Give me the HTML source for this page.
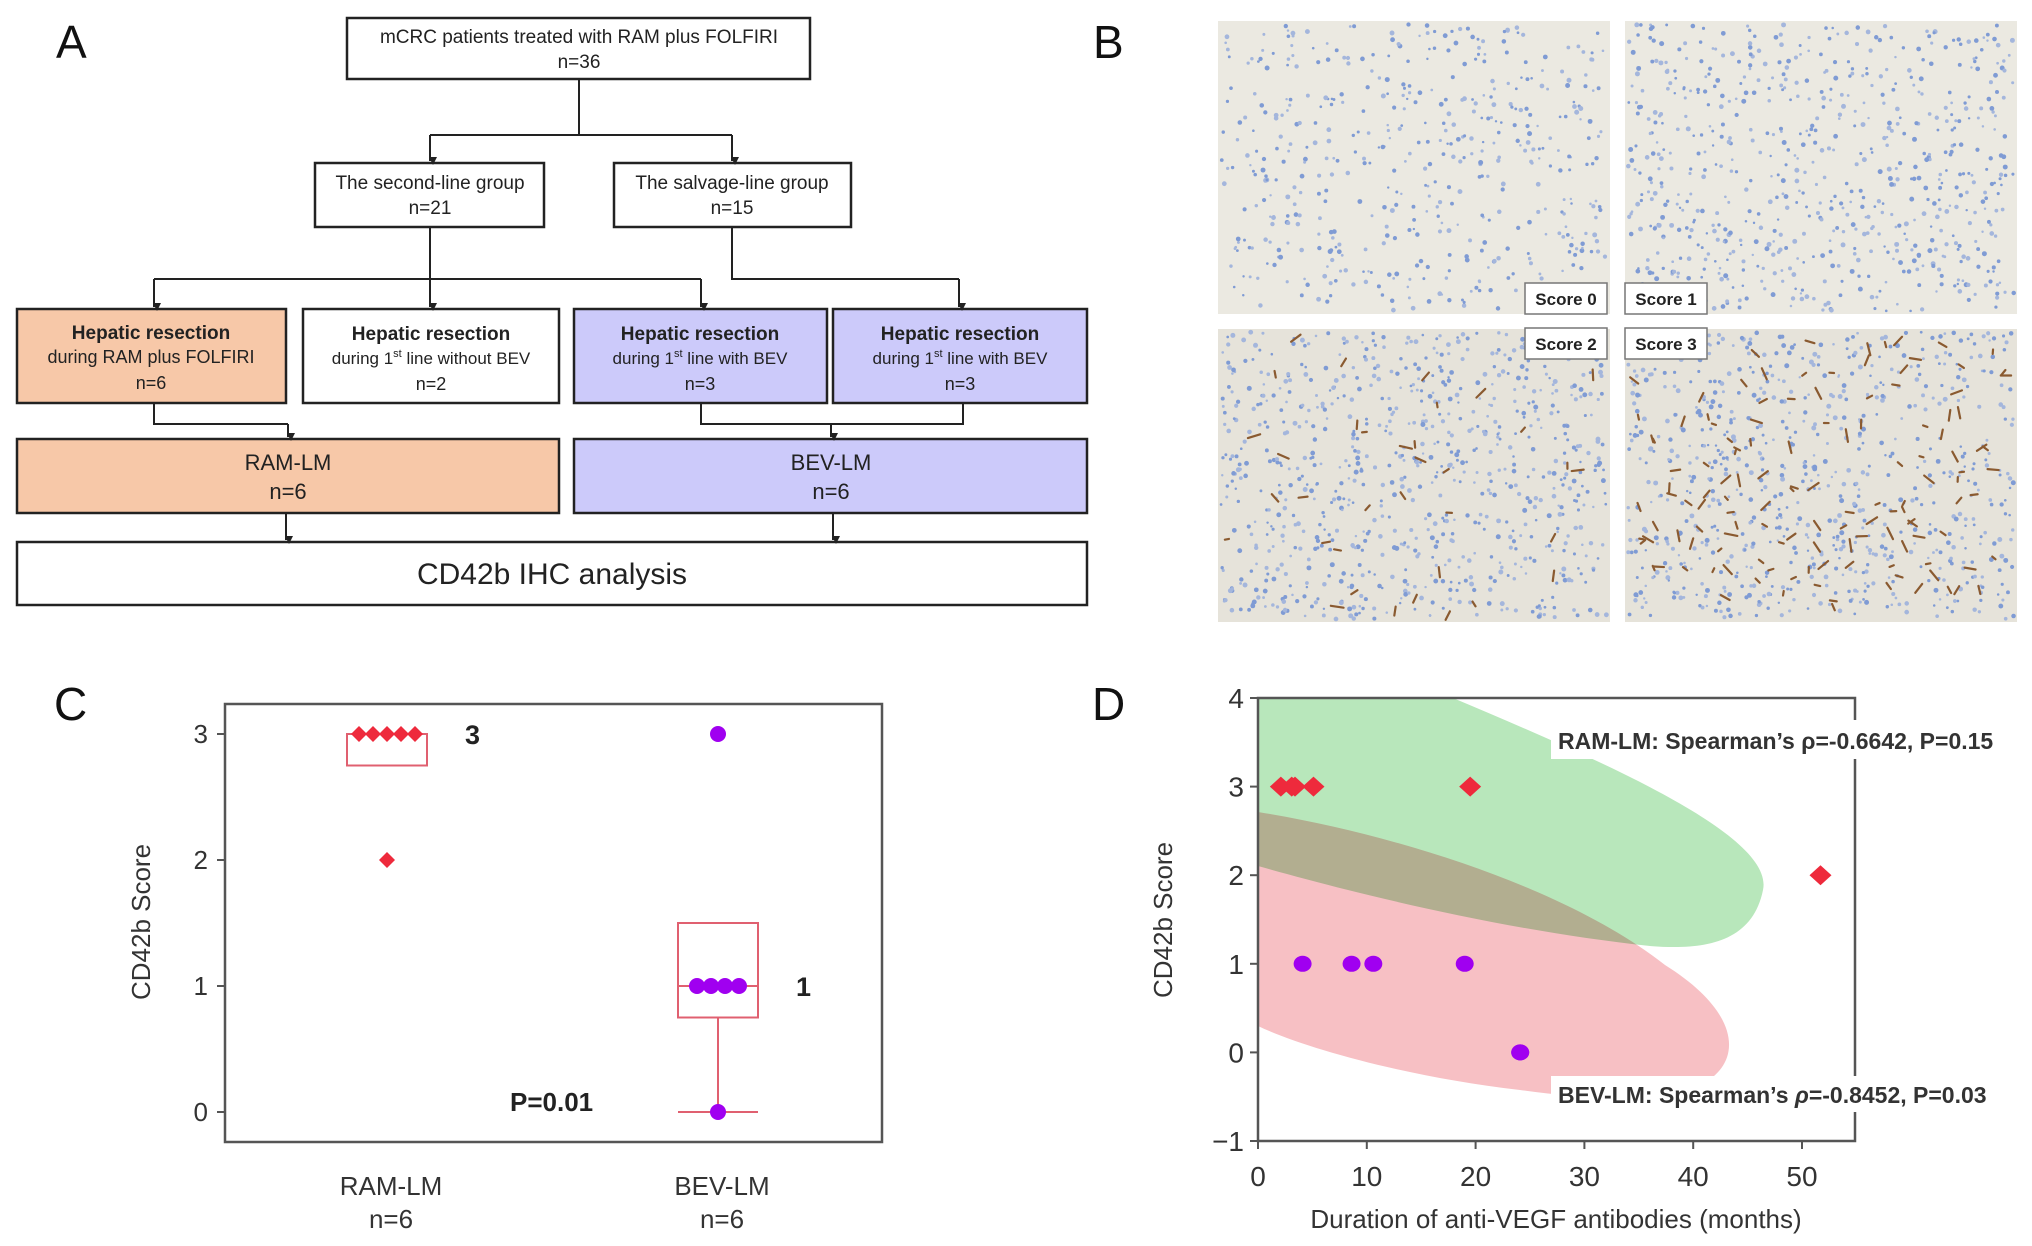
<!DOCTYPE html>
<html><head><meta charset="utf-8">
<style>
html,body{margin:0;padding:0;background:#fff;}
body{width:2032px;height:1246px;overflow:hidden;position:relative;font-family:"Liberation Sans",sans-serif;}
svg{position:absolute;left:0;top:0;}
</style></head>
<body>
<svg id="fig" width="2032" height="1246" viewBox="0 0 2032 1246" xmlns="http://www.w3.org/2000/svg" font-family="Liberation Sans, sans-serif">
<defs>
<marker id="arr" markerWidth="8" markerHeight="8" refX="4" refY="7" orient="auto" markerUnits="userSpaceOnUse"><path d="M0,0 L8,0 L4,8 Z" fill="#222" transform="rotate(-90 4 4)"/></marker>
<clipPath id="clipD"><rect x="1258" y="698" width="597" height="443"/></clipPath>
</defs>

<!-- Panel A -->
<g id="panelA" stroke="#222" stroke-width="2.5" fill="none">
<text x="56" y="58" font-size="46" fill="#111" stroke="none">A</text>
<rect x="347" y="18" width="463" height="61" fill="#fff"/>
<rect x="315" y="163" width="229" height="64" fill="#fff"/>
<rect x="614" y="163" width="237" height="64" fill="#fff"/>
<rect x="17" y="309" width="269" height="94" fill="#f7c8a8"/>
<rect x="303" y="309" width="256" height="94" fill="#fff"/>
<rect x="574" y="309" width="253" height="94" fill="#cccafa"/>
<rect x="833" y="309" width="254" height="94" fill="#cccafa"/>
<rect x="17" y="439" width="542" height="74" fill="#f7c8a8"/>
<rect x="574" y="439" width="513" height="74" fill="#cccafa"/>
<rect x="17" y="542" width="1070" height="63" fill="#fff"/>
<g stroke-width="2">
<path d="M579,79 V135 M430,135 H732"/>
<path d="M430,135 V161" marker-end="url(#arr)"/><path d="M732,135 V161" marker-end="url(#arr)"/>
<path d="M430,227 V279 M154,279 H701"/>
<path d="M154,279 V307" marker-end="url(#arr)"/><path d="M430,279 V307" marker-end="url(#arr)"/><path d="M701,279 V307" marker-end="url(#arr)"/>
<path d="M732,227 V279 H959"/><path d="M959,279 V307" marker-end="url(#arr)"/>
<path d="M154,403 V424 H288"/><path d="M288,424 V437" marker-end="url(#arr)"/>
<path d="M701,403 V424 H963 V403 M831,424"/><path d="M831,424 V437" marker-end="url(#arr)"/>
<path d="M286,513 V540" marker-end="url(#arr)"/><path d="M833,513 V540" marker-end="url(#arr)"/>
</g>
<g stroke="none" fill="#222" text-anchor="middle" font-size="19">
<text x="579" y="43">mCRC patients treated with RAM plus FOLFIRI</text>
<text x="579" y="68">n=36</text>
<text x="430" y="189">The second-line group</text><text x="430" y="214">n=21</text>
<text x="732" y="189">The salvage-line group</text><text x="732" y="214">n=15</text>
<text x="151" y="339" font-weight="bold">Hepatic resection</text>
<text x="151" y="363" font-size="18">during RAM plus FOLFIRI</text><text x="151" y="389" font-size="18">n=6</text>
<text x="431" y="340" font-weight="bold">Hepatic resection</text>
<text x="431" y="364" font-size="17">during 1<tspan font-size="11" dy="-7">st</tspan><tspan dy="7"> line without BEV</tspan></text><text x="431" y="390" font-size="18">n=2</text>
<text x="700" y="340" font-weight="bold">Hepatic resection</text>
<text x="700" y="364" font-size="17">during 1<tspan font-size="11" dy="-7">st</tspan><tspan dy="7"> line with BEV</tspan></text><text x="700" y="390" font-size="18">n=3</text>
<text x="960" y="340" font-weight="bold">Hepatic resection</text>
<text x="960" y="364" font-size="17">during 1<tspan font-size="11" dy="-7">st</tspan><tspan dy="7"> line with BEV</tspan></text><text x="960" y="390" font-size="18">n=3</text>
<text x="288" y="470" font-size="22">RAM-LM</text><text x="288" y="499" font-size="22">n=6</text>
<text x="831" y="470" font-size="22">BEV-LM</text><text x="831" y="499" font-size="22">n=6</text>
<text x="552" y="584" font-size="30">CD42b IHC analysis</text>
</g>
</g>

<!-- Panel B -->
<g id="panelB">
<text x="1093" y="58" font-size="46" fill="#111">B</text>
<g id="micro"></g>
</g>

<!-- Panel C -->
<g id="panelC">
<text x="54" y="720" font-size="46" fill="#111">C</text>
<rect x="225" y="704" width="657" height="438" fill="none" stroke="#555" stroke-width="2.5"/>
<g id="cAxis"></g><g id="cMarks"></g>
<text transform="translate(150,922) rotate(-90)" text-anchor="middle" font-size="26" fill="#333">CD42b Score</text>
<text x="510" y="1111" font-size="26" font-weight="bold" fill="#222">P=0.01</text>
</g>

<!-- Panel D -->
<g id="panelD">
<text x="1092" y="720" font-size="46" fill="#111">D</text>
<g clip-path="url(#clipD)" style="isolation:isolate">
<path d="M1258,698 L1453,698 C1600,760 1775,835 1763,890 C1752,945 1700,950 1650,946 C1500,930 1350,892 1258,866 Z" fill="#b8e7bb"/>
<path d="M1258,812 C1400,835 1570,890 1665,965 C1745,1015 1742,1065 1700,1085 C1650,1105 1580,1098 1520,1090 C1400,1076 1300,1046 1258,1026 Z" fill="#f7c0c4" style="mix-blend-mode:multiply"/>
</g>
<path d="M1258,698 H1855 V1141 H1258 Z" fill="none" stroke="#555" stroke-width="2.5"/>
<rect x="1551" y="720" width="455" height="39" fill="#fff"/>
<rect x="1551" y="1076" width="450" height="36" fill="#fff"/>
<text x="1558" y="749" font-size="23" font-weight="bold" fill="#333">RAM-LM: Spearman’s ρ=-0.6642, P=0.15</text>
<text x="1558" y="1103" font-size="23" font-weight="bold" fill="#333">BEV-LM: Spearman’s <tspan font-style="italic">ρ</tspan>=-0.8452, P=0.03</text>
<g id="dAxis"></g><g id="dMarks"></g>
<text transform="translate(1172,920) rotate(-90)" text-anchor="middle" font-size="26" fill="#333">CD42b Score</text>
<text x="1556" y="1228" text-anchor="middle" font-size="26" fill="#333">Duration of anti-VEGF antibodies (months)</text>
</g>
</svg>
<script>
// ---- Panel C data ----
const cCategories = ["RAM-LM", "BEV-LM"];
const cCounts = ["n=6", "n=6"];
const cRamValues = [3, 3, 3, 3, 3, 2];
const cBevValues = [3, 1, 1, 1, 1, 0];
const cRamBox = [2.75, 3, 3];       // q1, median, q3
const cBevBox = [0.75, 1, 1.5, 0];  // q1, median, q3, lower whisker
const cMedianLabels = ["3", "1"];
const cYTicks = [0, 1, 2, 3];
// ---- Panel D data ----
const dRamMonths = [2.1, 3.1, 3.4, 5.1, 19.5, 51.7];
const dRamScores = [3, 3, 3, 3, 3, 2];
const dBevMonths = [4.1, 8.6, 10.6, 19.0, 24.1, 24.1];
const dBevScores = [1, 1, 1, 1, 0, 0];
const dXTicks = [0, 10, 20, 30, 40, 50];
const dYTicks = [-1, 0, 1, 2, 3, 4];

const NS = "http://www.w3.org/2000/svg";
function mk(tag, attrs, parent, txt) {
  const e = document.createElementNS(NS, tag);
  for (const k in attrs) e.setAttribute(k, attrs[k]);
  if (txt !== undefined) e.textContent = txt;
  parent.appendChild(e);
  return e;
}
// Panel C scales
const cx = i => [387, 718][i];
const cy = v => 1112 - 126 * v;
const cAxis = document.getElementById('cAxis');
const cMarks = document.getElementById('cMarks');
cYTicks.forEach(t => {
  const l = mk('line', {x1: 217, x2: 225, y1: cy(t), y2: cy(t), stroke: '#555', 'stroke-width': 2}, cAxis);
  
  
  const tx = mk('text', {x: 208, y: cy(t) + 9, 'text-anchor': 'end', 'font-size': 26, fill: '#333'}, cAxis, String(t));
  
  
});
cCategories.forEach((c, i) => {
  const t1 = mk('text', {x: cx(i) + 4, y: 1195, 'text-anchor': 'middle', 'font-size': 26, fill: '#333'}, cAxis, c);
  
  
  const t2 = mk('text', {x: cx(i) + 4, y: 1228, 'text-anchor': 'middle', 'font-size': 26, fill: '#333'}, cAxis, cCounts[i]);
  
  
});
const bw = 40;
const rb = mk('rect', {x: cx(0) - bw, y: cy(cRamBox[2]), width: 2 * bw, height: cy(cRamBox[0]) - cy(cRamBox[2]), fill: 'none', stroke: '#e06070', 'stroke-width': 2}, cMarks);


const bb = mk('rect', {x: cx(1) - bw, y: cy(cBevBox[2]), width: 2 * bw, height: cy(cBevBox[0]) - cy(cBevBox[2]), fill: 'none', stroke: '#e06070', 'stroke-width': 2}, cMarks);


const bm = mk('line', {x1: cx(1) - bw, x2: cx(1) + bw, y1: cy(cBevBox[1]), y2: cy(cBevBox[1]), stroke: '#e06070', 'stroke-width': 2}, cMarks);


const bwk = mk('path', {d: `M${cx(1)},${cy(cBevBox[0])} V${cy(cBevBox[3])} M${cx(1) - bw},${cy(cBevBox[3])} H${cx(1) + bw}`, fill: 'none', stroke: '#e06070', 'stroke-width': 2}, cMarks);


function groupOffsets(vals) {
  const counts = {}, idx = {};
  vals.forEach(v => counts[v] = (counts[v] || 0) + 1);
  return vals.map(v => { idx[v] = (idx[v] || 0); const o = (idx[v] - (counts[v] - 1) / 2) * 14; idx[v]++; return o; });
}
const ramOff = groupOffsets(cRamValues);
cRamValues.forEach((v, i) => {
  const x = cx(0) + ramOff[i], y = cy(v);
  const p = mk('path', {d: `M${x},${y - 8} L${x + 8},${y} L${x},${y + 8} L${x - 8},${y} Z`, fill: '#ee2a3c'}, cMarks);
  
  
});
const bevOff = groupOffsets(cBevValues);
cBevValues.forEach((v, i) => {
  const c = mk('circle', {cx: cx(1) + bevOff[i], cy: cy(v), r: 8, fill: '#a000f0'}, cMarks);
  
  
});
[[cRamBox[1], 0], [cBevBox[1], 1]].forEach(([v, i]) => {
  const t = mk('text', {x: cx(i) + 78, y: cy(v) + 10, 'font-size': 27, 'font-weight': 'bold', fill: '#222'}, cMarks, cMedianLabels[i]);
  
  
});

// Panel D scales
const dx = m => 1258 + 10.88 * m;
const dy = v => 698 + (4 - v) * 88.6;
const dAxis = document.getElementById('dAxis');
const dMarks = document.getElementById('dMarks');
dYTicks.forEach(t => {
  const l = mk('line', {x1: 1250, x2: 1258, y1: dy(t), y2: dy(t), stroke: '#555', 'stroke-width': 2}, dAxis);
  
  
  const tx = mk('text', {x: 1244, y: dy(t) + 10, 'text-anchor': 'end', 'font-size': 28, fill: '#333'}, dAxis, t < 0 ? '\u2212' + Math.abs(t) : String(t));
  
  
});
dXTicks.forEach(t => {
  const l = mk('line', {x1: dx(t), x2: dx(t), y1: 1141, y2: 1149, stroke: '#555', 'stroke-width': 2}, dAxis);
  
  
  const tx = mk('text', {x: dx(t), y: 1186, 'text-anchor': 'middle', 'font-size': 28, fill: '#333'}, dAxis, String(t));
  
  
});
dRamMonths.forEach((m, i) => {
  const x = dx(m), y = dy(dRamScores[i]);
  const p = mk('path', {d: `M${x},${y - 10} L${x + 11},${y} L${x},${y + 10} L${x - 11},${y} Z`, fill: '#ee2a3c'}, dMarks);
  
  
});
dBevMonths.forEach((m, i) => {
  const c = mk('ellipse', {cx: dx(m), cy: dy(dBevScores[i]), rx: 9, ry: 8, fill: '#a000f0'}, dMarks);
  
  
});

// Panel B micrographs (texture)
const micro = document.getElementById('micro');
let seed = 12345;
function rnd() { seed = (seed * 1103515245 + 12345) % 2147483648; return seed / 2147483648; }
const tiles = [[1218, 21, 0], [1625, 21, 1], [1218, 329, 2], [1625, 329, 3]];
tiles.forEach(([x, y, s]) => {
  const g = mk('g', {}, micro);
  
  
  mk('rect', {x: x, y: y, width: 392, height: 293, fill: s >= 2 ? '#e6e3da' : '#ebe9e1'}, g);
  const n = [500, 700, 800, 750][s];
  for (let k = 0; k < n; k++) {
    mk('circle', {cx: x + 3 + rnd() * 386, cy: y + 3 + rnd() * 287, r: 1.2 + rnd() * 1.3, fill: rnd() < 0.5 ? '#7f9bd4' : '#a4b6dc'}, g);
  }
  const nb = [0, 0, 35, 130][s];
  for (let k = 0; k < nb; k++) {
    const px = x + 10 + rnd() * 372, py = y + 10 + rnd() * 273, a = rnd() * 6.28, L = 4 + rnd() * 9;
    mk('line', {x1: px, y1: py, x2: px + Math.cos(a) * L, y2: py + Math.sin(a) * L, stroke: '#8a5a30', 'stroke-width': 2.2, 'stroke-linecap': 'round'}, g);
  }
});
const labels = [[1525, 283, 'Score 0'], [1625, 283, 'Score 1'], [1525, 328, 'Score 2'], [1625, 328, 'Score 3']];
labels.forEach(([x, y, t]) => {
  const r = mk('rect', {x: x, y: y, width: 82, height: 31, fill: '#fff', stroke: '#777', 'stroke-width': 1.5}, micro);
  
  
  const tx = mk('text', {x: x + 41, y: y + 22, 'text-anchor': 'middle', 'font-size': 17, 'font-weight': 'bold', fill: '#222'}, micro, t);
  
  
});
</script>
</body></html>
